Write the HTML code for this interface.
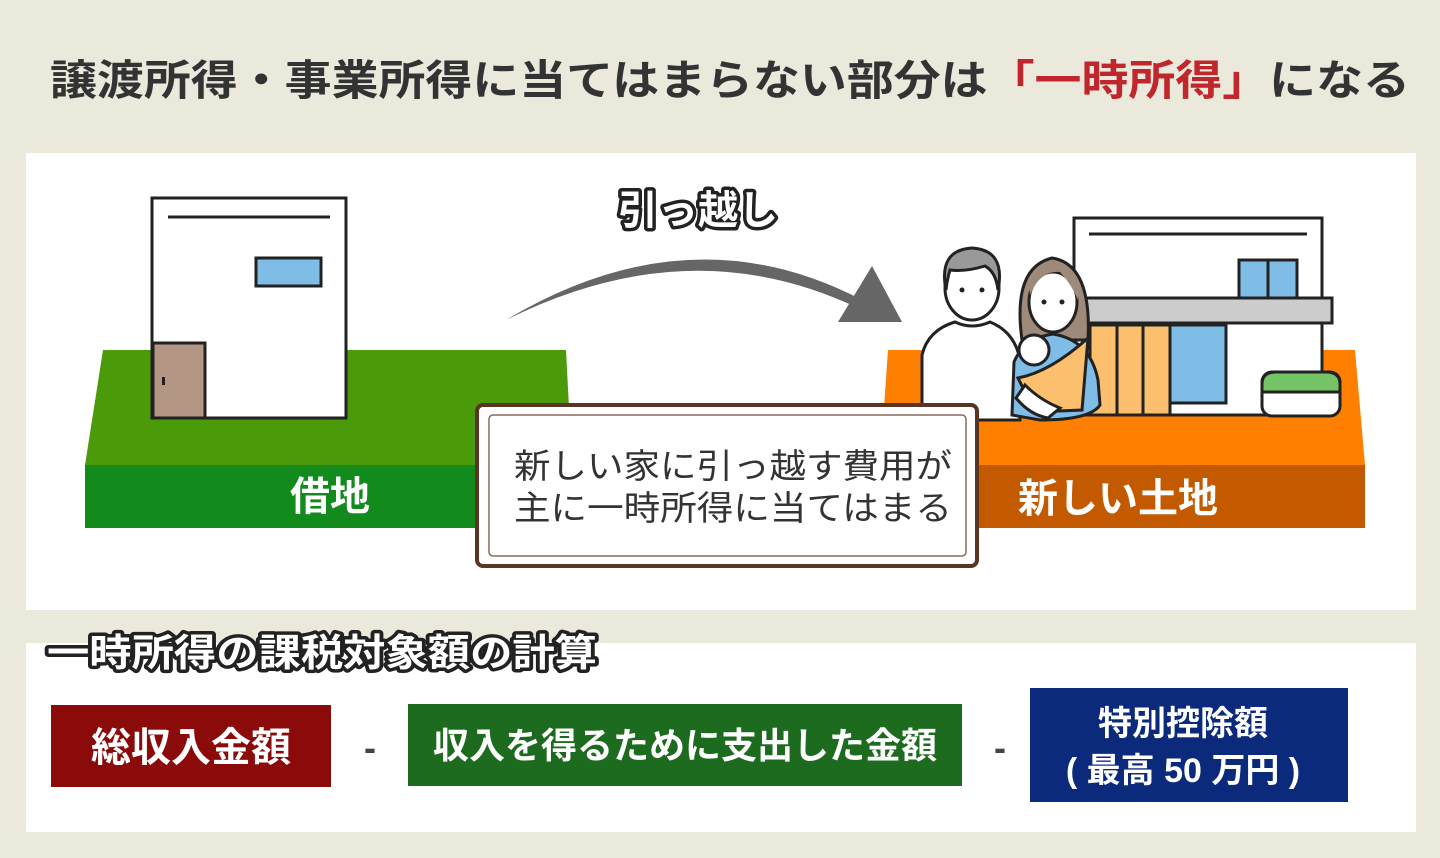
<!DOCTYPE html>
<html><head><meta charset="utf-8"><style>
html,body{margin:0;padding:0;background:#ebe9dc;}
svg{display:block;}
text{font-family:"Liberation Sans","Noto Sans CJK JP",sans-serif;}
</style></head><body>
<svg width="1440" height="858" viewBox="0 0 1440 858" xmlns="http://www.w3.org/2000/svg">
<rect width="1440" height="858" fill="#ebe9dc"/>
<text x="50" y="95" font-size="42" font-weight="bold" fill="#333" textLength="1360" lengthAdjust="spacingAndGlyphs">譲渡所得・事業所得に当てはまらない部分は<tspan fill="#c0272d">「一時所得」</tspan>になる</text>

<rect x="26" y="153" width="1390" height="457" fill="#fff"/>

<!-- green land -->
<polygon points="103,350 566,350 572,465 85,465" fill="#4b9a0a"/>
<rect x="85" y="465" width="400" height="63" fill="#138a1c"/>
<!-- left building -->
<rect x="152" y="198" width="194" height="220" fill="#fff" stroke="#222" stroke-width="3"/>
<line x1="168" y1="217" x2="330" y2="217" stroke="#222" stroke-width="3"/>
<rect x="256" y="258" width="65" height="28" fill="#7fbce6" stroke="#222" stroke-width="3"/>
<rect x="153" y="343" width="52" height="75" fill="#b39683" stroke="#222" stroke-width="3"/>
<rect x="162" y="377" width="3" height="8" fill="#222"/>
<text x="290" y="510" font-size="40" font-weight="bold" fill="#fff">借地</text>

<!-- arrow -->
<path d="M506,320 Q690,210 862,300 L858,308 Q690,228 506,320 Z" fill="#666"/>
<polygon points="838,322 872,266 902,322" fill="#666"/>
<text x="618" y="224" font-size="40" font-weight="bold" fill="#fff" stroke="#222" stroke-width="7" paint-order="stroke" stroke-linejoin="round">引っ越し</text>

<!-- orange land -->
<polygon points="888,350 1355,350 1365,465 880,465" fill="#ff8000"/>
<rect x="970" y="465" width="395" height="63" fill="#c45a00"/>
<!-- right house -->
<rect x="1074" y="218" width="248" height="197" fill="#fff" stroke="#222" stroke-width="3"/>
<line x1="1089" y1="234" x2="1307" y2="234" stroke="#222" stroke-width="3"/>
<rect x="1239" y="260" width="58" height="38" fill="#7fbce6" stroke="#222" stroke-width="3"/>
<line x1="1268" y1="260" x2="1268" y2="298" stroke="#222" stroke-width="3"/>
<rect x="1080" y="298" width="252" height="25" fill="#ccc" stroke="#222" stroke-width="3"/>
<rect x="1090" y="325" width="80" height="90" fill="#fbbf6e" stroke="#222" stroke-width="3"/>
<line x1="1117" y1="325" x2="1117" y2="415" stroke="#222" stroke-width="3"/>
<line x1="1143" y1="325" x2="1143" y2="415" stroke="#222" stroke-width="3"/>
<rect x="1170" y="325" width="56" height="78" fill="#7fbce6" stroke="#222" stroke-width="3"/>
<rect x="1262" y="372" width="78" height="44" rx="10" fill="#fff" stroke="#222" stroke-width="3"/>
<path d="M1262,392 L1262,384 Q1262,372 1276,372 L1326,372 Q1340,372 1340,384 L1340,392 Z" fill="#74c466" stroke="#222" stroke-width="3"/>
<!-- man -->
<path d="M922,420 L922,355 Q928,330 955,322 Q972,330 990,322 Q1015,332 1020,360 L1020,420 Z" fill="#fff" stroke="#222" stroke-width="3"/>
<ellipse cx="972" cy="288" rx="27" ry="32" fill="#fff" stroke="#222" stroke-width="3"/>
<path d="M946,290 Q938,250 972,248 Q1006,250 998,290 Q996,272 985,266 Q965,272 950,270 Q947,280 946,290 Z" fill="#999" stroke="#222" stroke-width="3"/>
<circle cx="962" cy="290" r="2.5" fill="#222"/><circle cx="982" cy="290" r="2.5" fill="#222"/>
<!-- woman -->
<path d="M1022,340 Q1012,268 1052,258 Q1092,264 1088,340 Z" fill="#9e8a7a" stroke="#222" stroke-width="3"/>
<ellipse cx="1053" cy="302" rx="24" ry="30" fill="#fff" stroke="#222" stroke-width="3"/>
<path d="M1030,295 Q1040,270 1060,272 Q1072,285 1078,300 Q1080,268 1053,266 Q1026,270 1030,295 Z" fill="#9e8a7a"/>
<circle cx="1044" cy="302" r="2.5" fill="#222"/><circle cx="1062" cy="302" r="2.5" fill="#222"/>
<path d="M1012,415 L1014,362 Q1024,338 1053,334 Q1090,340 1098,380 L1100,405 Q1090,420 1040,420 Z" fill="#7fbce6" stroke="#222" stroke-width="3"/>
<path d="M1018,378 Q1050,372 1088,338 L1082,410 L1035,412 Z" fill="#fbbf6e" stroke="#222" stroke-width="3"/>
<circle cx="1034" cy="350" r="15" fill="#fff" stroke="#222" stroke-width="3"/>
<path d="M1016,398 Q1030,415 1048,418 L1060,408 Q1040,400 1025,385 Z" fill="#fff" stroke="#222" stroke-width="3"/>

<!-- center box -->
<rect x="477" y="405" width="500" height="161" rx="6" fill="#fff" stroke="#5a3424" stroke-width="4"/>
<rect x="489" y="415" width="477" height="141" rx="4" fill="#fff" stroke="#8a6a5a" stroke-width="1.5"/>
<text x="514" y="478" font-size="34" fill="#333" textLength="438" lengthAdjust="spacingAndGlyphs">新しい家に引っ越す費用が</text>
<text x="514" y="520" font-size="34" fill="#333" textLength="438" lengthAdjust="spacingAndGlyphs">主に一時所得に当てはまる</text>
<text x="1018" y="512" font-size="40" font-weight="bold" fill="#fff">新しい土地</text>

<!-- lower panel -->
<rect x="26" y="643" width="1390" height="189" fill="#fff"/>
<text x="47" y="666" font-size="38" font-weight="bold" fill="#fff" stroke="#222" stroke-width="7" paint-order="stroke" stroke-linejoin="round" textLength="550" lengthAdjust="spacingAndGlyphs">一時所得の課税対象額の計算</text>
<rect x="51" y="705" width="280" height="82" fill="#8b0a0a"/>
<text x="191" y="761" font-size="40" font-weight="bold" fill="#fff" text-anchor="middle">総収入金額</text>
<text x="370" y="760" font-size="36" font-weight="bold" fill="#444" text-anchor="middle">-</text>
<rect x="408" y="704" width="554" height="82" fill="#1d6b1f"/>
<text x="685" y="758" font-size="36" font-weight="bold" fill="#fff" text-anchor="middle">収入を得るために支出した金額</text>
<text x="1000" y="760" font-size="36" font-weight="bold" fill="#444" text-anchor="middle">-</text>
<rect x="1030" y="688" width="318" height="114" fill="#0b2a7c"/>
<text x="1183" y="735" font-size="34" font-weight="bold" fill="#fff" text-anchor="middle">特別控除額</text>
<text x="1183" y="782" font-size="34" font-weight="bold" fill="#fff" text-anchor="middle">( 最高 50 万円 )</text>
</svg>
</body></html>
